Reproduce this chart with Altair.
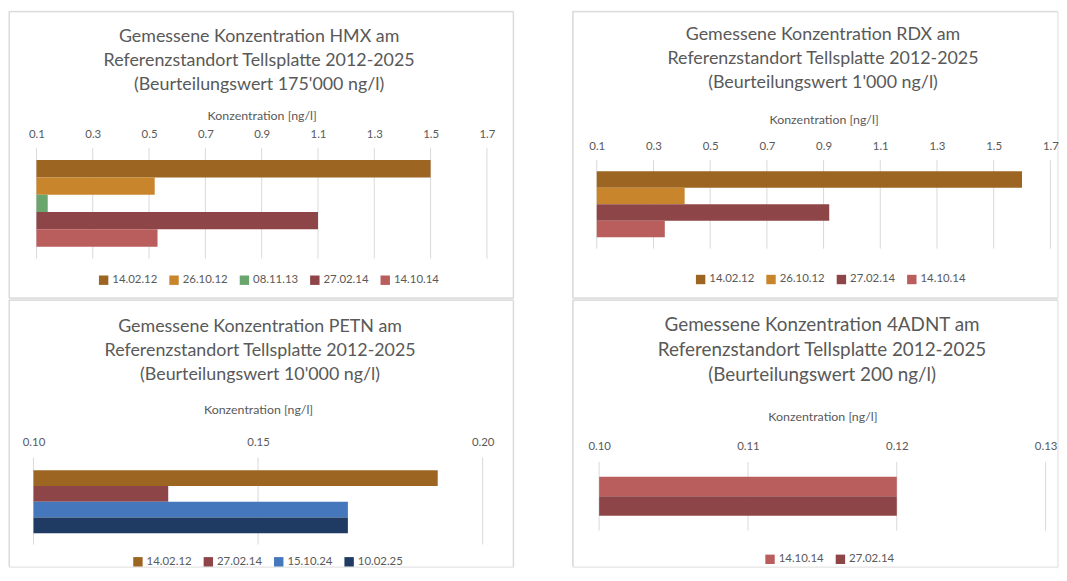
import altair as alt
import pandas as pd

# ---------------- data ----------------
hmx_dates = ["14.02.12", "26.10.12", "08.11.13", "27.02.14", "14.10.14"]
hmx_values = [1.5, 0.52, 0.14, 1.1, 0.53]
hmx_ticks = [0.1, 0.3, 0.5, 0.7, 0.9, 1.1, 1.3, 1.5, 1.7]

rdx_dates = ["14.02.12", "26.10.12", "27.02.14", "14.10.14"]
rdx_values = [1.6, 0.41, 0.92, 0.34]
rdx_ticks = [0.1, 0.3, 0.5, 0.7, 0.9, 1.1, 1.3, 1.5, 1.7]

petn_dates = ["14.02.12", "27.02.14", "15.10.24", "10.02.25"]
petn_values = [0.19, 0.13, 0.17, 0.17]
petn_ticks = [0.10, 0.15, 0.20]

adnt_dates = ["14.10.14", "27.02.14"]
adnt_values = [0.12, 0.12]
adnt_ticks = [0.10, 0.11, 0.12, 0.13]

date_colors = {
    "14.02.12": "#9C6522",
    "26.10.12": "#C8852B",
    "08.11.13": "#6BA56E",
    "27.02.14": "#8E4548",
    "14.10.14": "#B95D5D",
    "15.10.24": "#4477BB",
    "10.02.25": "#1F3B63",
}

titles = {
    "hmx": ["Gemessene Konzentration HMX am", "Referenzstandort Tellsplatte  2012-2025", "(Beurteilungswert 175'000 ng/l)"],
    "rdx": ["Gemessene Konzentration RDX am", "Referenzstandort Tellsplatte  2012-2025", "(Beurteilungswert 1'000 ng/l)"],
    "petn": ["Gemessene Konzentration PETN am", "Referenzstandort Tellsplatte  2012-2025", "(Beurteilungswert 10'000 ng/l)"],
    "adnt": ["Gemessene Konzentration 4ADNT am", "Referenzstandort Tellsplatte 2012-2025", "(Beurteilungswert 200 ng/l)"],
}

FONT = "Lato"
TXT = "#595959"
GRID = "#D9D9D9"
BORDER = "#D9D9D9"

rule_df = pd.DataFrame({"k": [0]})


def hline(x1, x2, y):
    return alt.Chart(rule_df).mark_rule(color=BORDER, strokeWidth=1).encode(
        x=alt.value(x1), x2=alt.value(x2), y=alt.value(y))


def vline(x, y1, y2):
    return alt.Chart(rule_df).mark_rule(color=BORDER, strokeWidth=1).encode(
        x=alt.value(x), y=alt.value(y1), y2=alt.value(y2))


def panel(dates, values, lo, hi, ticks, fmt, box_w, box_h, x_range, grid_y, bar_y,
          title_lines, title_size, title_lh, title_offset, title_dx,
          label_pad, title_pad, legend_x, legend_y, edges):
    df = pd.DataFrame({"Datum": dates, "Wert": values})
    tick_df = pd.DataFrame({"Wert": ticks})
    colors = [date_colors[d] for d in dates]
    xscale = alt.Scale(domain=[lo, hi], range=x_range, nice=False, zero=False)
    xaxis = alt.Axis(orient="top", offset=-grid_y[0], values=ticks, format=fmt, grid=False,
                     domain=False, ticks=False, tickSize=0,
                     labelPadding=label_pad, labelFlush=False, labelOverlap=False,
                     title="Konzentration [ng/l]", titlePadding=title_pad,
                     labelFontSize=11.5, titleFontSize=12.5, titleFontWeight="normal",
                     labelColor=TXT, titleColor=TXT, labelFont=FONT, titleFont=FONT)
    grid = alt.Chart(tick_df).mark_rule(color=GRID, strokeWidth=1).encode(
        x=alt.X("Wert:Q", scale=xscale, axis=xaxis),
        y=alt.value(grid_y[0]), y2=alt.value(grid_y[1]),
    )
    bars = alt.Chart(df).mark_bar().encode(
        x=alt.X("Wert:Q", scale=xscale, axis=xaxis),
        x2=alt.datum(lo),
        y=alt.Y("Datum:N", sort=dates, axis=None,
                scale=alt.Scale(range=bar_y, paddingInner=0, paddingOuter=0)),
        color=alt.Color("Datum:N",
                        scale=alt.Scale(domain=dates, range=colors),
                        legend=alt.Legend(orient="none", legendX=legend_x, legendY=legend_y,
                                          direction="horizontal", columns=len(dates), title=None,
                                          symbolType="square", symbolSize=90, symbolStrokeWidth=0,
                                          labelFontSize=11.5, labelColor=TXT, labelFont=FONT,
                                          labelOffset=3, columnPadding=11, padding=0)),
    )
    layers = [grid, bars] + edges
    return alt.layer(*layers).properties(
        width=box_w, height=box_h,
        title=alt.TitleParams(text=title_lines, anchor="middle", frame="group",
                              offset=title_offset, dx=title_dx,
                              fontSize=title_size, lineHeight=title_lh,
                              font=FONT, color=TXT, fontWeight="normal"),
    )


# each panel's view is the whole Excel chart box
LW, RW = 508.5, 489
TH, BH = 289, 269

p1 = panel(hmx_dates, hmx_values, 0.1, 1.7, hmx_ticks, ".1f", LW, TH,
           [27.7, 482], [137.8, 249.3], [150, 237.3],
           titles["hmx"], 18, 24.3, -84, -2, 9, 6, 89.7, 265,
           [hline(0, LW, 0), hline(0, LW, TH), vline(0, 0, TH), vline(LW, 0, TH)])

p3 = panel(petn_dates, petn_values, 0.10, 0.20, petn_ticks, ".2f", LW, BH,
           [24.7, 477.7], [159, 246.7], [171.7, 235.3],
           titles["petn"], 18, 24.2, -85.5, -1, 10, 20, 124.3, 258,
           [hline(0, LW, 0), vline(0, 0, BH), vline(LW, 0, BH)])

p2 = panel(rdx_dates, rdx_values, 0.1, 1.7, rdx_ticks, ".1f", RW, TH,
           [24.3, 481.8], [150, 239.3], [161.2, 227.7],
           titles["rdx"], 18, 24.3, -82, 8, 9, 14, 123.3, 264.3,
           [hline(0, RW, 0), hline(0, RW, TH), vline(0, 0, TH)])

p4 = panel(adnt_dates, adnt_values, 0.10, 0.13, adnt_ticks, ".2f", RW, BH,
           [26.7, 477], [163.3, 232.7], [178.3, 217.7],
           titles["adnt"], 19, 25.3, -86.5, 7, 10, 18, 193.3, 255.5,
           [hline(0, RW, 0), vline(0, 0, BH)])

left = alt.vconcat(p1, p3, spacing=0).resolve_scale(
    x="independent", y="independent", color="independent").resolve_legend(color="independent")
right = alt.vconcat(p2, p4, spacing=0).resolve_scale(
    x="independent", y="independent", color="independent").resolve_legend(color="independent")

chart = alt.hconcat(left, right, spacing=57.5).resolve_scale(
    x="independent", y="independent", color="independent"
).resolve_legend(color="independent").properties(
    padding={"top": 0, "left": 0, "right": 0, "bottom": 0},
    background="white",
).configure_view(strokeWidth=0).configure(font=FONT)

chart.save("out.html", embed_options={"renderer": "svg", "actions": False})
